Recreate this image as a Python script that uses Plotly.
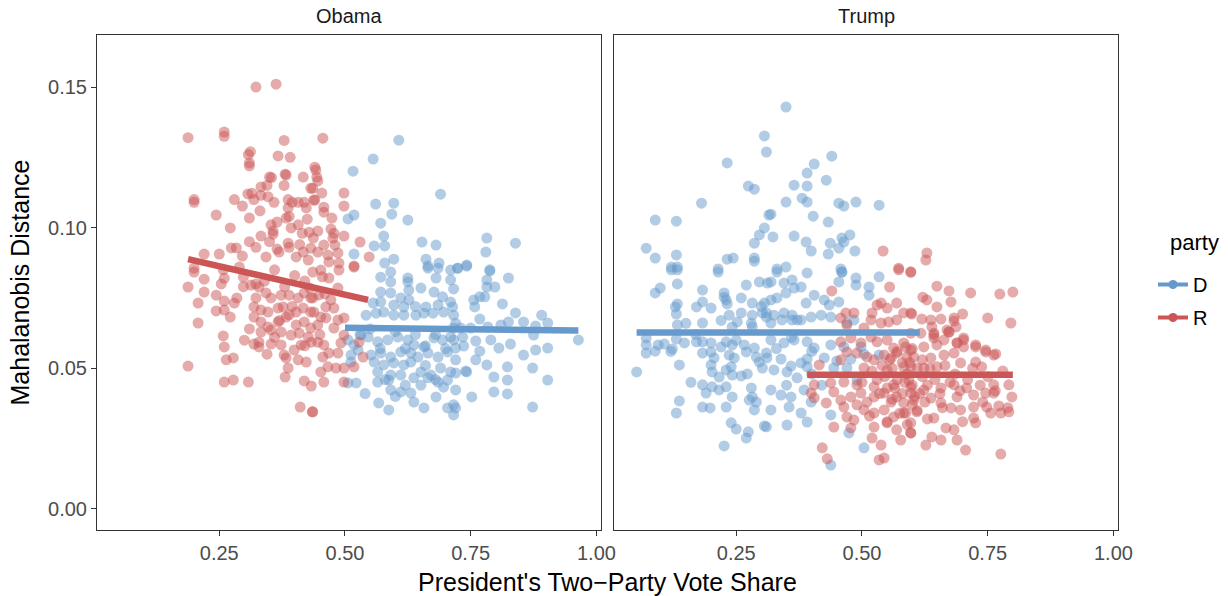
import plotly.graph_objects as go

# ---------------- data ----------------
obama_r_x = [0.323,0.363,0.26,0.26,0.188,0.379,0.312,0.308,0.367,0.391,0.31,0.31,0.44,0.381,0.383,0.35,0.354,0.417,0.379,0.432,0.333,0.345,0.307,0.315,0.20,0.20,0.28,0.319,0.333,0.347,0.359,0.387,0.395,0.407,0.419,0.423,0.387,0.438,0.296,0.244,0.331,0.31,0.383,0.389,0.353,0.365,0.425,0.272,0.357,0.357,0.393,0.407,0.415,0.429,0.437,0.31,0.333,0.387,0.389,0.274,0.284,0.323,0.365,
             0.22,0.25,0.296,0.343,0.369,0.403,0.417,0.432,0.427,0.20,0.20,0.258,0.22,0.26,0.254,0.298,0.298,0.313,0.323,0.329,0.188,0.22,0.244,0.26,0.28,0.208,
             0.323,0.343,0.353,0.373,0.389,0.407,0.419,0.432,0.319,0.333,0.347,0.367,0.377,0.389,0.403,0.417,0.432,0.244,0.26,0.272,
             0.319,0.333,0.347,0.367,0.383,0.403,0.419,0.432,0.208,0.333,0.353,0.373,0.393,0.409,0.427,0.433,0.258,0.26,
             0.319,0.329,0.329,0.353,0.373,0.379,0.383,0.407,0.423,0.399,0.413,0.264,0.278,0.188,0.387,0.26,0.278,0.308,0.381,0.419,0.433,0.411,0.435,
             0.456,0.442,0.444,0.446,0.436,0.454,0.44,0.458,0.458,0.474,0.498,0.498,0.446,0.472,0.478,0.498,0.476,0.458,0.48,0.486,0.466,0.446,0.468,0.488,0.518,0.53,0.548,
             0.436,0.452,0.468,0.488,0.518,0.486,0.472,0.448,0.436,0.438,0.462,0.478,0.452,0.462,0.486,0.498,0.446,0.478,0.498,0.446,0.458,0.468,0.456,0.486,0.492,0.528,0.536,0.518,0.498,0.482,0.466,0.452,0.458,0.498,0.436,
             0.34,0.36,0.38,0.40,0.42,0.35,0.41,0.29,0.31,0.37,0.395,0.43,0.455,0.46,0.30,0.345,0.36,0.42,0.45,0.285]
obama_r_y = [0.150,0.151,0.134,0.1325,0.132,0.131,0.127,0.126,0.1255,0.125,0.123,0.122,0.1215,0.119,0.1187,0.118,0.1178,0.118,0.115,0.114,0.1145,0.115,0.112,0.1122,0.110,0.109,0.110,0.110,0.1115,0.111,0.109,0.110,0.109,0.109,0.109,0.107,0.107,0.1098,0.1077,0.1045,0.106,0.1034,0.1034,0.104,0.101,0.102,0.103,0.0999,0.0988,0.0977,0.0999,0.101,0.098,0.0984,0.0963,0.095,0.097,0.0945,0.093,0.0928,0.0928,0.093,0.0924,
             0.0906,0.0906,0.0899,0.0896,0.0913,0.0896,0.0913,0.0927,0.0885,0.0856,0.0842,0.085,0.0817,0.082,0.080,0.0824,0.079,0.0796,0.080,0.0789,0.0789,0.0771,0.076,0.0739,0.0732,0.0732,
             0.075,0.0768,0.075,0.076,0.076,0.075,0.0768,0.075,0.0718,0.0707,0.070,0.0714,0.0718,0.069,0.070,0.0714,0.070,0.0704,0.0707,0.0682,
             0.0682,0.0665,0.0647,0.0665,0.0682,0.0654,0.0665,0.0643,0.0661,0.0629,0.0636,0.0629,0.0618,0.0625,0.0611,0.0593,0.0615,0.0576,
             0.0586,0.0593,0.0576,0.0586,0.0583,0.0547,0.0537,0.053,0.0522,0.0565,0.0583,0.053,0.0537,0.0508,0.0501,0.0451,0.0458,0.0451,0.0469,0.0455,0.0437,0.0362,0.0345,
             0.1318,0.1205,0.118,0.1166,0.114,0.1123,0.1098,0.1073,0.1055,0.1034,0.1123,0.1077,0.0988,0.0995,0.098,0.097,0.0963,0.0938,0.0938,0.091,0.0903,0.0913,0.0878,0.0874,0.0864,0.0949,0.0896,
             0.0842,0.0849,0.0821,0.0849,0.086,0.0785,0.0743,0.0761,0.0750,0.0700,0.0718,0.0714,0.0682,0.0679,0.0672,0.0679,0.0654,0.0643,0.0618,0.0593,0.0583,0.0554,0.054,0.0554,0.059,0.0593,0.054,0.0505,0.0501,0.0501,0.0505,0.0487,0.0451,0.0451,0.0345,
             0.081,0.085,0.079,0.083,0.081,0.095,0.094,0.086,0.064,0.067,0.072,0.0785,0.0825,0.0765,0.060,0.055,0.061,0.058,0.062,0.075]

obama_d_x = [0.607,0.556,0.516,0.69,0.561,0.597,0.518,0.506,0.593,0.625,0.571,0.577,0.558,0.579,0.653,0.681,0.518,0.597,0.579,0.661,0.687,0.665,
             0.782,0.839,0.78,0.724,0.742,0.788,
             0.571,0.591,0.591,0.625,0.625,0.651,0.665,0.685,0.681,0.71,0.71,
             0.571,0.591,0.627,0.627,0.611,0.677,0.694,0.71,0.556,0.571,0.597,0.617,0.661,0.685,0.542,0.562,0.577,0.597,0.617,0.641,0.657,0.675,0.696,0.716,
             0.506,0.518,0.532,0.546,0.565,0.585,0.605,0.625,0.637,0.657,0.677,0.694,0.71,0.512,0.526,0.552,0.571,0.591,0.611,0.631,0.645,0.665,0.685,0.704,
             0.512,0.558,0.577,0.597,0.617,0.631,0.651,0.671,0.69,0.71,0.565,0.591,0.611,0.637,0.665,0.704,
             0.506,0.522,0.565,0.587,0.591,0.611,0.631,0.651,0.685,0.696,0.681,0.704,0.567,0.587,0.637,0.657,0.716,
             0.724,0.742,0.788,0.825,0.782,0.782,0.798,0.716,0.756,0.778,0.768,0.758,0.714,0.813,0.839,0.891,0.768,0.81,0.825,0.855,0.879,0.903,0.716,0.73,0.75,0.784,
             0.716,0.734,0.76,0.79,0.806,0.829,0.855,0.875,0.879,0.903,0.964,0.72,0.736,0.768,
             0.782,0.823,0.873,0.72,0.742,0.796,0.823,0.903,0.72,0.752,0.796,0.823,0.873,0.72,0.716,
             0.53,0.55,0.57,0.60,0.62,0.64,0.66,0.68,0.70,0.72,0.74,0.76,0.58,0.62,0.66,0.54,0.60,0.68,0.64,0.72]
obama_d_y = [0.1311,0.1244,0.1201,0.1119,0.1084,0.1087,0.1045,0.1031,0.1048,0.1027,0.1016,0.097,0.0935,0.0935,0.0949,0.0938,0.0906,0.0888,0.0874,0.0888,0.0874,0.0864,
             0.0963,0.0945,0.0913,0.0856,0.0867,0.085,
             0.0824,0.0842,0.0807,0.0821,0.0807,0.0785,0.0856,0.0856,0.0821,0.0849,0.0814,
             0.0771,0.0768,0.0778,0.0743,0.075,0.0771,0.0754,0.0736,0.0732,0.0736,0.0725,0.0718,0.0718,0.0725,0.0689,0.0696,0.070,0.0689,0.0689,0.0689,0.0696,0.0696,0.070,0.0689,
             0.0601,0.0583,0.0618,0.0611,0.0594,0.0601,0.0611,0.0601,0.0583,0.0576,0.0608,0.0601,0.0611,0.0547,0.0565,0.0547,0.0554,0.054,0.0558,0.0554,0.054,0.0554,0.054,0.0558,
             0.0522,0.0522,0.0512,0.0519,0.0512,0.0522,0.0487,0.0476,0.0501,0.0487,0.0487,0.0476,0.0476,0.0466,0.0466,0.0458,
             0.0448,0.0448,0.0451,0.0458,0.0423,0.0416,0.0412,0.044,0.0451,0.0433,0.0398,0.0359,0.0377,0.0352,0.038,0.0359,0.037,
             0.0856,0.0863,0.0846,0.0821,0.0814,0.0789,0.0789,0.0782,0.0743,0.0754,0.0754,0.0718,0.0718,0.0729,0.0697,0.0689,0.0675,0.0654,0.0665,0.0665,0.065,0.0661,0.0643,0.0643,0.0643,0.0647,
             0.0601,0.0611,0.0597,0.0601,0.0572,0.0586,0.0547,0.0618,0.0565,0.0572,0.0601,0.0572,0.0579,0.0561,
             0.0512,0.0505,0.0501,0.0483,0.0487,0.0469,0.0458,0.0458,0.0423,0.0398,0.0416,0.0409,0.0362,0.0359,0.0334,
             0.062,0.064,0.057,0.063,0.057,0.062,0.058,0.062,0.057,0.053,0.049,0.053,0.046,0.044,0.051,0.041,0.040,0.046,0.072,0.066]

trump_d_x = [0.306,0.31,0.232,0.274,0.286,0.181,0.089,0.131,0.315,0.306,0.296,0.286,0.071,0.089,0.131,0.121,0.133,0.214,0.232,0.244,0.286,0.286,
             0.349,0.44,0.405,0.391,0.429,0.365,0.391,0.381,0.391,0.349,0.454,0.464,0.488,0.534,0.319,0.403,0.433,0.323,0.365,0.389,0.399,0.437,0.46,0.464,0.476,0.454,0.433,0.486,0.331,0.349,0.458,0.46,
             0.121,0.133,0.214,0.089,0.099,0.133,0.183,0.226,0.226,0.23,0.27,0.296,0.312,0.26,0.282,0.306,
             0.133,0.129,0.131,0.171,0.183,0.2,0.232,0.236,0.26,0.282,0.302,0.31,0.133,0.183,0.242,0.252,0.282,
             0.071,0.071,0.071,0.089,0.095,0.107,0.123,0.131,0.147,0.171,0.183,0.2,0.183,0.2,0.206,0.22,0.23,0.242,0.236,0.246,0.266,0.27,0.286,0.29,0.31,0.296,0.302,
             0.052,0.137,0.2,0.202,0.216,0.23,0.24,0.242,0.26,0.272,0.216,0.23,0.242,0.183,0.19,0.202,0.137,0.131,
             0.183,0.198,0.23,0.276,0.29,0.286,0.282,0.24,0.25,0.274,0.27,0.226,0.306,
             0.331,0.319,0.345,0.361,0.365,0.379,0.391,0.349,0.319,0.331,0.31,0.325,0.345,0.361,0.371,0.389,0.405,0.425,0.435,0.454,0.46,0.454,0.488,0.488,0.514,0.514,0.534,
             0.319,0.345,0.365,0.391,0.405,0.438,0.464,0.498,0.311,0.339,0.359,0.379,0.391,0.425,0.45,0.478,0.504,0.325,0.351,0.371,0.391,0.444,0.47,0.49,0.534,0.319,0.339,0.359,0.385,0.399,0.319,0.355,0.379,0.391,0.351,0.438,0.474,0.504,0.438,0.31,
             0.319,0.341,0.361,0.379,0.399,0.419,0.438,0.47,0.484,
             0.15,0.17,0.25,0.28,0.33,0.36,0.40,0.12,0.22,0.30,0.40,0.42,0.28,0.35,0.16]
trump_d_y = [0.1326,0.1269,0.123,0.1148,0.1137,0.1087,0.1027,0.1023,0.1045,0.0999,0.0974,0.0945,0.0927,0.0892,0.0903,0.086,0.086,0.0853,0.0888,0.0892,0.0892,0.0881,
             0.1429,0.1254,0.1226,0.1194,0.1169,0.1151,0.1148,0.1105,0.1091,0.1091,0.1087,0.1077,0.1091,0.108,0.1048,0.1041,0.102,0.0967,0.097,0.0949,0.0917,0.0945,0.0963,0.0949,0.0974,0.0927,0.0906,0.0917,0.0853,0.086,0.0853,0.0842,
             0.085,0.085,0.0842,0.0768,0.0785,0.080,0.0778,0.0768,0.0753,0.0743,0.0796,0.0807,0.0803,0.075,0.0732,0.0732,
             0.0729,0.0718,0.0693,0.0718,0.0736,0.0714,0.0729,0.0689,0.0697,0.0689,0.0697,0.0682,0.0654,0.0661,0.0647,0.0665,0.0647,
             0.0608,0.0583,0.0554,0.0561,0.0583,0.0586,0.0569,0.0604,0.059,0.0594,0.0594,0.059,0.0554,0.0558,0.0537,0.0576,0.0594,0.0583,0.0547,0.0537,0.0583,0.0558,0.0572,0.054,0.0554,0.0522,0.0501,
             0.0487,0.0512,0.0512,0.0487,0.0469,0.0494,0.0505,0.0476,0.0473,0.048,0.0423,0.0434,0.0398,0.0441,0.0412,0.0434,0.0384,0.0341,
             0.0362,0.0359,0.0362,0.0387,0.038,0.0352,0.0398,0.0306,0.0284,0.0274,0.0252,0.0224,0.0295,
             0.0842,0.0807,0.0803,0.0814,0.0785,0.0789,0.0839,0.0768,0.0743,0.075,0.0697,0.0689,0.0697,0.0689,0.0672,0.0732,0.076,0.0743,0.0725,0.0736,0.0842,0.0807,0.0821,0.0796,0.0789,0.076,0.0825,
             0.0601,0.059,0.0601,0.0594,0.0572,0.0583,0.0576,0.0576,0.0537,0.0533,0.0508,0.0519,0.0533,0.0537,0.0526,0.0533,0.055,0.0494,0.0487,0.0466,0.0505,0.0501,0.0501,0.0458,0.0547,0.0423,0.0405,0.0398,0.0423,0.038,0.0352,0.0362,0.0341,0.0309,0.0298,0.0334,0.027,0.0217,0.0156,0.0292,
             0.0661,0.0672,0.0672,0.0672,0.0682,0.0689,0.0682,0.0661,0.0672,
             0.066,0.062,0.060,0.066,0.057,0.061,0.056,0.056,0.067,0.072,0.048,0.044,0.043,0.044,0.045]

trump_r_x = [0.542,0.573,0.597,
             0.44,0.555,0.573,0.597,0.53,0.538,0.52,0.55,0.569,0.583,0.458,0.468,0.484,0.47,0.504,0.518,0.538,0.553,0.569,0.597,
             0.458,0.478,0.498,0.518,0.53,0.55,0.563,0.583,0.597,0.49,0.51,0.524,0.544,0.558,0.569,0.589,0.458,0.47,
             0.399,0.405,0.429,0.444,0.458,0.464,0.478,0.498,0.51,0.524,0.544,0.558,0.569,0.583,0.597,0.504,0.524,0.544,0.563,0.583,0.597,0.47,0.484,0.524,0.55,0.569,0.577,0.52,0.538,0.421,0.431,0.534,0.544,0.444,0.478,0.597,
             0.405,0.438,0.464,0.49,0.524,0.563,0.593,0.415,0.504,0.55,0.583,
             0.629,0.627,0.649,0.673,0.716,0.774,0.8,0.621,0.629,0.677,0.649,0.599,0.7,0.619,0.637,0.657,0.683,0.683,0.75,0.796,0.639,0.687,0.669,0.673,
             0.597,0.617,0.643,0.643,0.663,0.689,0.702,0.726,0.746,0.766,0.683,0.702,0.623,0.649,0.587,
             0.643,0.673,0.702,0.726,0.746,0.762,0.689,0.663,0.637,0.603,0.696,0.726,0.738,0.597,0.623,0.649,
             0.597,0.623,0.657,0.683,0.708,0.722,0.746,0.762,0.762,0.792,0.798,0.603,0.637,0.657,0.689,0.677,0.696,0.722,0.748,0.772,0.792,0.776,0.756,0.722,0.643,0.609,0.587,0.597,0.667,0.683,0.639,0.627,0.657,0.689,0.706,0.776,0.726,
             0.56,0.57,0.58,0.59,0.60,0.61,0.62,0.55,0.56,0.58,0.60,0.615,0.63,0.62,0.54,0.53,0.57,0.60,0.61,0.575,
             0.50,0.52,0.535,0.545,0.555,0.565,0.585,0.595,0.605,0.625,0.635,0.645,0.655,0.665,0.675,0.685,0.695,0.71,0.72,0.735,0.75,0.765,0.78,0.79,0.49,0.515,0.55,0.59,0.63,0.66,0.70,0.74]
trump_r_y = [0.0917,0.0856,0.0842,
             0.0775,0.0789,0.085,0.0842,0.0725,0.0732,0.0697,0.0714,0.0732,0.0697,0.0679,0.0697,0.0697,0.0654,0.0643,0.0672,0.0661,0.0665,0.0672,0.0697,
             0.0594,0.0608,0.059,0.0611,0.0594,0.0601,0.0572,0.059,0.0565,0.0554,0.054,0.053,0.0547,0.0537,0.0554,0.054,0.053,0.0558,
             0.0412,0.0395,0.0377,0.0416,0.0387,0.0362,0.0398,0.0412,0.038,0.0398,0.0412,0.038,0.0398,0.0377,0.0412,0.0352,0.0341,0.0352,0.0327,0.0341,0.0306,0.0327,0.0316,0.0291,0.0306,0.0281,0.0245,0.0252,0.0227,0.0217,0.0178,0.0174,0.0181,0.0291,0.0288,0.0270,
             0.0441,0.0448,0.0451,0.0441,0.0434,0.0441,0.0458,0.0512,0.0501,0.0494,0.0505,
             0.091,0.0885,0.0792,0.0775,0.0768,0.0764,0.0771,0.0753,0.0743,0.0736,0.0718,0.0693,0.0693,0.0675,0.0672,0.0675,0.0679,0.0668,0.0679,0.0661,0.0647,0.0647,0.0636,0.0629,
             0.0625,0.0625,0.0625,0.0608,0.0601,0.059,0.0601,0.0583,0.0565,0.0551,0.0554,0.0576,0.0576,0.0583,0.0576,
             0.0618,0.0629,0.0608,0.0576,0.0558,0.0547,0.059,0.0547,0.0537,0.054,0.0519,0.0522,0.0505,0.0505,0.0501,0.0505,
             0.0433,0.0423,0.043,0.0441,0.043,0.0405,0.0412,0.0441,0.0412,0.0441,0.0398,0.0387,0.0394,0.0377,0.0398,0.0359,0.0352,0.0362,0.0362,0.0366,0.0345,0.0341,0.0341,0.0323,0.0323,0.0345,0.0341,0.027,0.0288,0.0281,0.0256,0.0227,0.0245,0.0245,0.0209,0.0195,0.0306,
             0.050,0.046,0.052,0.048,0.044,0.050,0.047,0.043,0.039,0.041,0.037,0.041,0.044,0.053,0.051,0.046,0.056,0.057,0.035,0.034,
             0.045,0.049,0.041,0.047,0.053,0.043,0.045,0.052,0.040,0.038,0.050,0.046,0.041,0.051,0.045,0.048,0.042,0.046,0.050,0.044,0.047,0.042,0.049,0.036,0.037,0.033,0.031,0.030,0.032,0.036,0.031,0.038]

# fitted (linear) lines per facet / party: endpoints
fit_obama_d_x = [0.50, 0.964]
fit_obama_d_y = [0.0644, 0.0634]
fit_obama_r_x = [0.188, 0.546]
fit_obama_r_y = [0.0888, 0.0743]
fit_trump_d_x = [0.052, 0.615]
fit_trump_d_y = [0.0627, 0.0627]
fit_trump_r_x = [0.391, 0.800]
fit_trump_r_y = [0.0477, 0.0477]

x_ticks = [0.25, 0.50, 0.75, 1.00]
x_tick_labels = ["0.25", "0.50", "0.75", "1.00"]
y_ticks = [0.00, 0.05, 0.10, 0.15]
y_tick_labels = ["0.00", "0.05", "0.10", "0.15"]
parties = ["D", "R"]
facets = ["Obama", "Trump"]

# ---------------- styling ----------------
BLUE = "#6699CC"
RED = "#CC5555"
FONT = "Liberation Sans, Arial, sans-serif"
PT_ALPHA = 0.5
TICK_SIZE = 20
TITLE_SIZE = 25
LEG_TITLE_SIZE = 22

fig = go.Figure()

def pts(x, y, color, xa, ya):
    fig.add_trace(go.Scatter(x=x, y=y, mode="markers", xaxis=xa, yaxis=ya,
                             marker=dict(size=11, color=color, opacity=PT_ALPHA, line=dict(width=0)),
                             showlegend=False, hoverinfo="skip"))

def fit(x, y, color, xa, ya):
    fig.add_trace(go.Scatter(x=x, y=y, mode="lines", xaxis=xa, yaxis=ya,
                             line=dict(color=color, width=6.5), showlegend=False, hoverinfo="skip"))

pts(obama_d_x, obama_d_y, BLUE, "x", "y")
pts(obama_r_x, obama_r_y, RED, "x", "y")
pts(trump_d_x, trump_d_y, BLUE, "x2", "y2")
pts(trump_r_x, trump_r_y, RED, "x2", "y2")
fit(fit_obama_d_x, fit_obama_d_y, BLUE, "x", "y")
fit(fit_obama_r_x, fit_obama_r_y, RED, "x", "y")
fit(fit_trump_d_x, fit_trump_d_y, BLUE, "x2", "y2")
fit(fit_trump_r_x, fit_trump_r_y, RED, "x2", "y2")

# legend keys
for p, c in zip(parties, [BLUE, RED]):
    fig.add_trace(go.Scatter(x=[None], y=[None], mode="lines+markers", name=p, legendgroup=p,
                             line=dict(color=c, width=4),
                             marker=dict(color=c, size=9, opacity=1),
                             xaxis="x", yaxis="y"))

axis_common = dict(showline=True, mirror=True, linecolor="#333333", linewidth=1,
                   showgrid=False, zeroline=False, ticks="outside", ticklen=5,
                   tickcolor="#333333", tickfont=dict(family=FONT, size=TICK_SIZE, color="#4D4D4D"))

XR = [0.007, 1.009]
YR = [-0.0075, 0.1685]
W, H = 1228, 596
ML, MR, MT, MB = 97, 110, 35, 66
plot_w = W - ML - MR
plot_h = H - MT - MB
left_w = 504 / plot_w

def px_x(px):  # page x -> paper x
    return (px - ML) / plot_w

def px_y(py):  # page y -> paper y
    return 1 - (py - MT) / plot_h

fig.update_layout(
    width=W, height=H,
    margin=dict(l=ML, r=MR, t=MT, b=MB, autoexpand=False),
    paper_bgcolor="white", plot_bgcolor="white",
    font=dict(family=FONT, color="black"),
    xaxis=dict(domain=[0, left_w], range=XR, tickvals=x_ticks, ticktext=x_tick_labels, anchor="y", **axis_common),
    xaxis2=dict(domain=[1 - left_w, 1], range=XR, tickvals=x_ticks, ticktext=x_tick_labels, anchor="y2", **axis_common),
    yaxis=dict(range=YR, tickvals=y_ticks, ticktext=y_tick_labels, anchor="x", **axis_common),
    yaxis2=dict(range=YR, anchor="x2", showline=True, mirror=True, linecolor="#333333",
                linewidth=1, showgrid=False, zeroline=False, showticklabels=False, ticks=""),
    legend=dict(x=px_x(1153), xanchor="left", y=px_y(265), yanchor="top",
                font=dict(size=TICK_SIZE, family=FONT, color="black"),
                traceorder="grouped", tracegroupgap=4, itemwidth=30,
                bgcolor="rgba(0,0,0,0)"),
    showlegend=True,
)

annotations = [
    dict(text=facets[0], x=left_w / 2, y=1, xref="paper", yref="paper", xanchor="center", yanchor="bottom",
         yshift=6, showarrow=False, font=dict(size=TICK_SIZE, family=FONT, color="#1A1A1A")),
    dict(text=facets[1], x=1 - left_w / 2, y=1, xref="paper", yref="paper", xanchor="center", yanchor="bottom",
         yshift=6, showarrow=False, font=dict(size=TICK_SIZE, family=FONT, color="#1A1A1A")),
    dict(text="President's Two\u2212Party Vote Share", x=0.5, y=0, xref="paper", yref="paper",
         xanchor="center", yanchor="top", yshift=-36, showarrow=False,
         font=dict(size=TITLE_SIZE, family=FONT, color="black")),
    dict(text="Mahalanobis Distance", x=0, y=0.5, xref="paper", yref="paper", xanchor="right",
         yanchor="middle", xshift=-62, textangle=-90, showarrow=False,
         font=dict(size=TITLE_SIZE, family=FONT, color="black")),
    dict(text="party", x=px_x(1168), y=px_y(242), xref="paper", yref="paper", xanchor="left",
         yanchor="middle", showarrow=False, font=dict(size=LEG_TITLE_SIZE, family=FONT, color="black")),
]
fig.update_layout(annotations=annotations)

# remove the browser's default 8px body margin so the figure sits at the page origin
fig.write_html("out.html", config={"displayModeBar": False},
               post_script="document.body.style.margin='0px';document.body.style.overflow='hidden';")
